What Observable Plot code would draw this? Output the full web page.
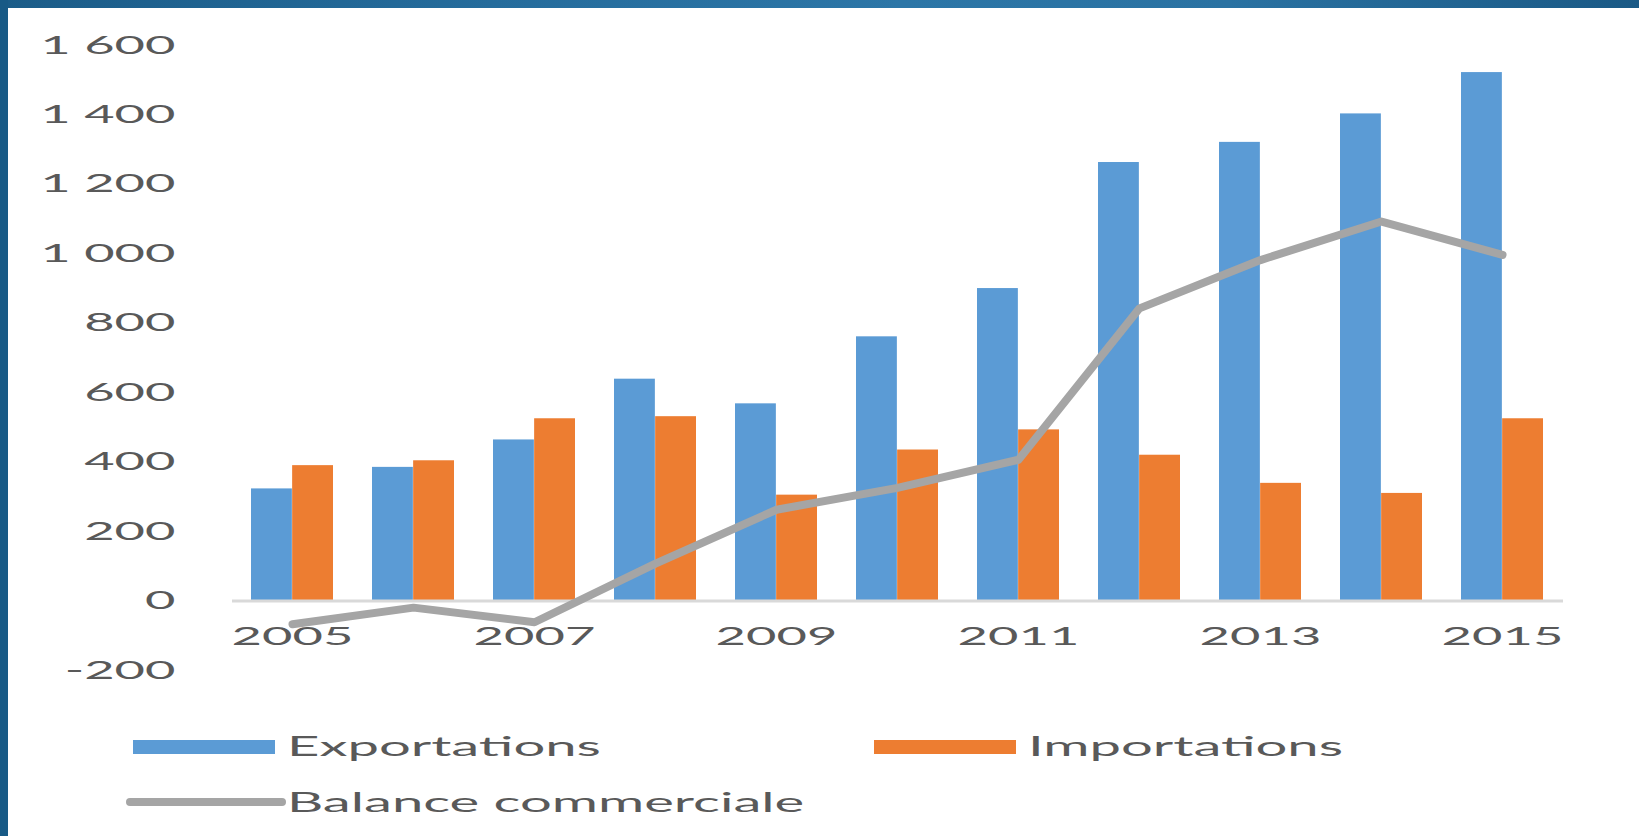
<!DOCTYPE html>
<html>
<head>
<meta charset="utf-8">
<script src="https://cdn.jsdelivr.net/npm/d3@7"></script>
<script src="https://cdn.jsdelivr.net/npm/@observablehq/plot@0.6"></script>
<style>
  html, body { margin: 0; padding: 0; background: #fff; }
  #wrap { position: relative; width: 1639px; height: 836px; overflow: hidden; background: #fff; font-family: Lato, "Open Sans", sans-serif; }
  #topbar { position: absolute; left: 0; top: 0; width: 1639px; height: 8px; z-index: 3;
    background: linear-gradient(90deg, #1b5c88 0%, #256c9c 30%, #2c76a7 55%, #2a72a2 75%, #1a5985 100%); }
  #leftbar { position: absolute; left: 0; top: 0; width: 8px; height: 836px; z-index: 3; background: #185a86; }
  #chart { position: absolute; left: 0; top: 0; }
  #legend { position: absolute; left: 0; top: 0; width: 1639px; height: 836px; pointer-events: none; }
  .sw { position: absolute; }
  .lt { position: absolute; font-size: 27px; line-height: 30px; color: #595959; white-space: nowrap; transform-origin: 0 50%; }
</style>
</head>
<body>
<div id="wrap">
  <div id="chart"></div>
  <div id="legend"></div>
  <div id="topbar"></div>
  <div id="leftbar"></div>
</div>
<script>
// ---- data ----
const years = [2005, 2006, 2007, 2008, 2009, 2010, 2011, 2012, 2013, 2014, 2015];
const exportations = [323, 385, 464, 639, 568, 761, 900, 1263, 1321, 1403, 1522];
const importations = [390, 404, 525, 531, 305, 435, 493, 420, 339, 310, 525];
const balance = [-67, -19, -61, 108, 263, 326, 407, 843, 982, 1093, 997];
const xTickYears = [2005, 2007, 2009, 2011, 2013, 2015];
const yTickValues = [-200, 0, 200, 400, 600, 800, 1000, 1200, 1400, 1600];
const yTickLabels = ["-200", "0", "200", "400", "600", "800", "1 000", "1 200", "1 400", "1 600"];
const seriesNames = ["Exportations", "Importations", "Balance commerciale"];

// ---- styles ----
const seriesColors = ["#5B9BD5", "#ED7D31", "#A5A5A5"];
const textColor = "#595959";
const stretch = 2.1;
const legendStretch = 2.08;

const data = years.map((year, i) => ({
  year, exportations: exportations[i], importations: importations[i], balance: balance[i]
}));

const W = 1639, H = 700;
const mL = 232, mR = 76, mT = 45, mB = 30;
const xOpts = { type: "band", domain: years, paddingInner: 0.32, paddingOuter: 0.16 };
const bw = Plot.scale({ x: { ...xOpts, range: [mL, W - mR] } }).bandwidth;

const chart = Plot.plot({
  width: W, height: H,
  marginLeft: mL, marginRight: mR, marginTop: mT, marginBottom: mB,
  style: { fontFamily: "Lato, 'Open Sans', sans-serif", fontSize: "25px", color: textColor, background: "transparent", overflow: "visible" },
  x: { ...xOpts, axis: null },
  y: { domain: [-200, 1600], axis: null },
  marks: [
    Plot.barY(data, { x: "year", y: "exportations", fill: seriesColors[0], insetRight: bw / 2, insetLeft: 0 }),
    Plot.barY(data, { x: "year", y: "importations", fill: seriesColors[1], insetLeft: bw / 2, insetRight: 0 }),
    Plot.ruleY([0], { stroke: "#d9d9d9", strokeWidth: 3 }),
    Plot.line(data, { x: "year", y: "balance", stroke: seriesColors[2], strokeWidth: 8, strokeLinecap: "round", strokeLinejoin: "round" }),
    Plot.axisY({ ticks: yTickValues, tickFormat: d => yTickLabels[yTickValues.indexOf(d)], tickSize: 0, tickPadding: 57, label: null, fill: textColor, fontSize: 25 }),
    Plot.text(xTickYears, { x: d => d, y: d => 0, text: d => String(d), dy: 36, fill: textColor, fontSize: 25 })
  ]
});
document.getElementById("chart").appendChild(chart);

// stretch texts horizontally like the reference
chart.querySelectorAll("text").forEach(t => {
  const tr = t.getAttribute("transform") || "";
  const x = +(t.getAttribute("x") || 0);
  t.removeAttribute("x");
  t.setAttribute("transform", `${tr} translate(${x},0) scale(${stretch},1)`);
});

// ---- legend (below the plot) ----
const legend = d3.select("#legend");
const legItems = [
  { sw: { left: 133, top: 740, width: 142, height: 14 }, text: { left: 287, top: 731 } },
  { sw: { left: 874, top: 740, width: 142, height: 14 }, text: { left: 1028, top: 731 } },
  { sw: { left: 126, top: 798, width: 160, height: 8, radius: 4 }, text: { left: 287, top: 787 } }
];
legItems.forEach((it, i) => {
  legend.append("div").attr("class", "sw")
    .style("left", it.sw.left + "px").style("top", it.sw.top + "px")
    .style("width", it.sw.width + "px").style("height", it.sw.height + "px")
    .style("border-radius", (it.sw.radius || 0) + "px")
    .style("background", seriesColors[i]);
  legend.append("div").attr("class", "lt")
    .style("left", it.text.left + "px").style("top", it.text.top + "px")
    .style("transform", `scaleX(${legendStretch})`)
    .text(seriesNames[i]);
});
</script>
</body>
</html>
